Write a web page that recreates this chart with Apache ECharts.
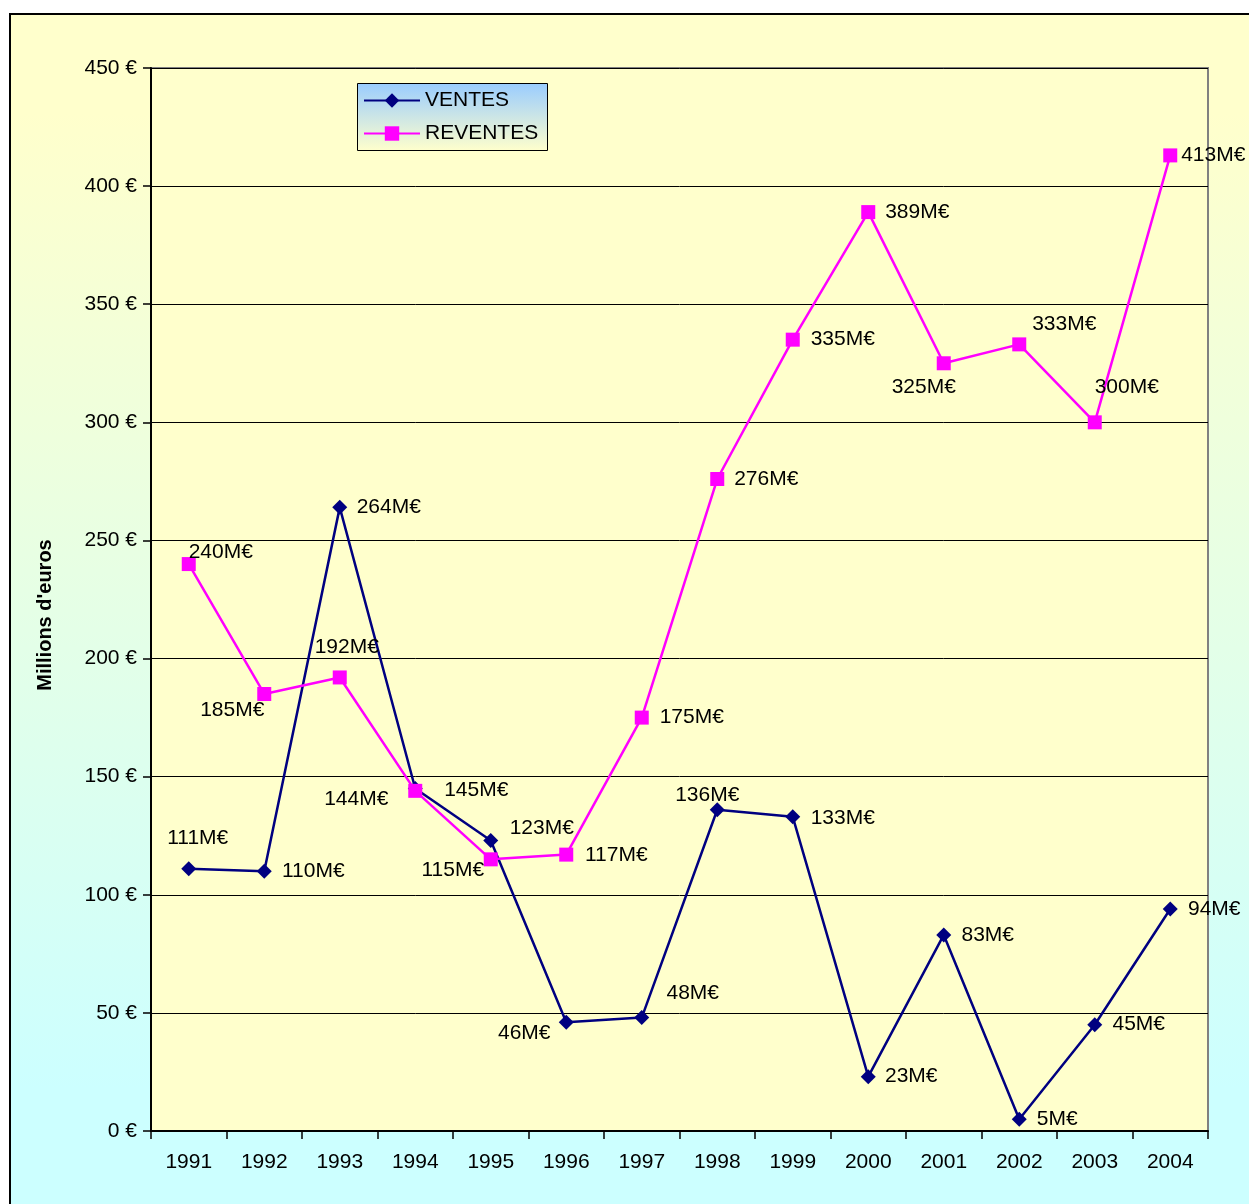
<!DOCTYPE html>
<html>
<head>
<meta charset="utf-8">
<script src="https://cdn.jsdelivr.net/npm/echarts@6/dist/echarts.min.js"></script>
<style>
html,body{margin:0;padding:0;background:#fff;}
#wrap{position:relative;width:1249px;height:1204px;overflow:hidden;}
#frame{position:absolute;left:9px;top:13px;width:1260px;height:1220px;border:2px solid #000;
background:linear-gradient(to bottom,#FFFFCC 0%,#FFFFCC 8%,#CCFFFF 88%,#CCFFFF 100%);}
#chart{position:absolute;left:0;top:0;width:1249px;height:1204px;}
</style>
</head>
<body>
<div id="wrap"><div id="frame"></div><div id="chart"></div></div>
<script>
const years = ['1991','1992','1993','1994','1995','1996','1997','1998','1999','2000','2001','2002','2003','2004'];
const ventes = [111,110,264,145,123,46,48,136,133,23,83,5,45,94];
const reventes = [240,185,192,144,115,117,175,276,335,389,325,333,300,413];
const yTicks = {min:0,max:450,interval:50};

// label offsets (label centre relative to point), pixels
const ventesLabelOffset = [[9,-31],[49,0],[49,0],[61,2],[51,-12],[-42,11],[51,-24],[-10,-15],[50,1],[43,0],[44,0],[38,0],[44,0],[44,0]];
const reventesLabelOffset = [[32,-12],[-32,16],[7,-30],[-59,8],[-38,11],[50,1],[50,0],[49,0],[50,0],[49,0],[-20,24],[45,-20],[32,-35],[43,0]];

const FONT = 'Liberation Sans, Arial, sans-serif';
function build(vals, offs){
  return vals.map((v,i)=>({value:v,label:{offset:offs[i]}}));
}
const chart = echarts.init(document.getElementById('chart'), null, {renderer:'canvas'});
chart.setOption({
  backgroundColor:'transparent',
  animation:false,
  grid:{left:151,top:68,width:1057,height:1063,show:true,backgroundColor:'#FFFFCC',borderColor:'#808080',borderWidth:2,containLabel:false},
  graphic:[{
    type:'rect',left:357,top:83,z:5,
    shape:{width:190,height:67},
    style:{fill:{type:'linear',x:0,y:0,x2:0,y2:1,colorStops:[{offset:0,color:'#99CCFF'},{offset:1,color:'#FFFFCC'}]},stroke:'#000',lineWidth:1}
  },{
    type:'text',x:45,y:615,rotation:Math.PI/2,z:5,
    style:{text:"Millions d'euros",font:'bold 20px '+FONT,fill:'#000',align:'center',verticalAlign:'middle'}
  }],
  legend:{
    left:358,top:85,orient:'vertical',itemWidth:56,itemHeight:18,itemGap:12,z:10,
    textStyle:{fontFamily:FONT,fontSize:21,color:'#000',lineHeight:21},
    data:['VENTES','REVENTES']
  },
  xAxis:{
    type:'category',data:years,boundaryGap:true,
    axisLine:{lineStyle:{color:'#000',width:2}},
    axisTick:{show:true,length:8,lineStyle:{color:'#000',width:1.5}},
    axisLabel:{fontFamily:FONT,fontSize:21,color:'#000',margin:21,interval:0},
    splitLine:{show:false}
  },
  yAxis:{
    type:'value',min:yTicks.min,max:yTicks.max,interval:yTicks.interval,
    axisLine:{show:true,lineStyle:{color:'#000',width:2}},
    axisTick:{show:true,length:8,lineStyle:{color:'#000',width:1.5}},
    axisLabel:{fontFamily:FONT,fontSize:21,color:'#000',margin:14,formatter:'{value} €'},
    splitLine:{show:true,lineStyle:{color:'#000',width:1}}
  },
  series:[
    {name:'VENTES',type:'line',data:build(ventes,ventesLabelOffset),
     symbol:'diamond',symbolSize:15,
     itemStyle:{color:'#000080'},lineStyle:{color:'#000080',width:2.5},
     label:{show:true,position:'inside',formatter:'{c}M€',fontFamily:FONT,fontSize:21,color:'#000'},
     z:3},
    {name:'REVENTES',type:'line',data:build(reventes,reventesLabelOffset),
     symbol:'rect',symbolSize:14,
     itemStyle:{color:'#FF00FF'},lineStyle:{color:'#FF00FF',width:2.5},
     label:{show:true,position:'inside',formatter:'{c}M€',fontFamily:FONT,fontSize:21,color:'#000'},
     z:4}
  ]
});
</script>
</body>
</html>
